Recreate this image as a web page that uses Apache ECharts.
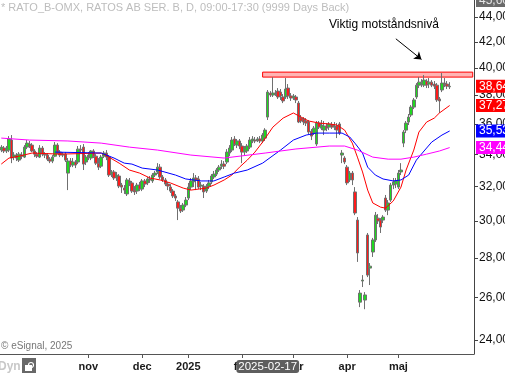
<!DOCTYPE html>
<html><head><meta charset="utf-8">
<script src="https://cdn.jsdelivr.net/npm/echarts@6/dist/echarts.min.js"></script>
<style>html,body{margin:0;padding:0;background:#fff}#c{width:505px;height:373px}</style>
</head><body><div id="c"></div>
<script>
// ---- categories (Stockholm trading days) ----
const firstDate = '2024-09-16';
const totalCategories = 185;
const holidays = ['2024-12-24','2024-12-25','2024-12-26','2024-12-31','2025-01-01','2025-01-06','2025-04-18','2025-04-21','2025-05-01','2025-05-29','2025-06-06'];
const monthLabels = ['2025','feb','mar','apr','maj','jun','jul','aug','sep','okt','nov','dec'];
const shownTickLabels = ['nov','dec','2025','feb','mar','apr','maj'];
const yTickValues = [24,26,28,30,32,34,36,38,40,42,44];
const crosshairDate = '2025-02-17';

// ---- OHLC (SEK) ----
const opens = [34.28,34.41,34.22,34.28,34.93,33.83,33.96,33.64,33.96,33.83,
34.47,34.67,34.60,34.22,34.02,33.83,34.41,34.02,33.96,33.70,
33.58,33.89,34.60,34.15,33.96,34.02,32.83,33.58,33.33,33.52,
33.52,34.34,34.47,33.52,33.83,33.77,34.22,33.89,33.45,33.26,
33.89,34.09,33.83,32.77,32.90,32.59,32.65,32.10,31.92,31.57,
32.35,32.23,31.80,31.74,32.10,31.86,32.35,32.23,32.47,32.35,
32.71,32.90,33.20,32.59,32.41,32.16,31.98,31.74,31.45,31.10,
30.74,30.63,30.92,31.33,31.98,32.29,32.53,32.47,32.04,32.04,
31.74,32.04,32.29,32.59,32.77,33.02,33.26,33.39,33.52,34.09,
34.28,35.00,34.60,34.87,34.54,34.15,34.22,34.47,34.87,34.93,
34.93,35.00,34.87,35.06,36.47,38.15,38.01,38.15,38.29,38.22,
37.87,37.87,38.51,37.94,37.80,37.87,37.44,36.40,36.33,36.20,
36.13,35.52,35.39,34.67,36.06,35.72,35.59,35.86,35.79,35.93,
35.79,35.86,36.00,33.96,33.77,33.20,32.41,32.83,31.69,30.06,
25.77,26.81,25.87,29.23,27.47,28.31,28.96,30.17,30.06,30.06,
31.33,30.63,31.21,32.10,32.16,31.98,32.90,34.73,35.59,36.13,
36.61,37.16,37.87,38.72,38.80,38.72,39.02,38.80,38.94,38.80,
38.72,37.73,38.37,38.87,38.80,38.60];
const closes = [34.47,34.22,34.41,35.00,33.77,33.96,33.77,34.02,33.89,34.47,
34.73,34.54,34.22,34.02,33.89,34.41,34.02,33.96,33.70,33.58,
33.83,34.60,34.15,33.96,34.02,33.64,33.58,33.33,33.52,33.33,
34.34,34.28,33.39,33.83,33.96,34.22,33.89,33.45,33.20,33.83,
34.09,33.83,32.71,32.90,32.53,32.71,32.04,31.98,31.80,32.41,
32.23,31.74,31.69,32.10,31.86,32.35,32.16,32.47,32.41,32.71,
32.83,33.20,32.59,32.41,32.16,32.04,31.74,31.45,31.33,30.74,
30.57,30.92,31.21,31.98,32.35,32.53,32.41,31.98,32.10,31.69,
32.04,32.23,32.65,32.77,33.02,33.20,33.39,33.26,34.15,34.41,
34.93,34.67,34.87,34.54,34.15,34.41,34.54,34.93,35.00,34.87,
35.00,34.87,35.26,35.59,38.22,38.01,38.15,38.08,37.87,37.94,
37.59,38.44,37.94,37.80,37.94,37.66,36.13,36.20,36.13,36.06,
35.46,35.19,35.72,36.06,35.79,35.93,35.86,35.72,36.00,35.79,
35.86,35.59,35.39,34.09,33.52,32.23,32.83,32.41,30.46,28.26,
26.21,26.86,26.12,27.11,27.57,28.96,30.34,30.01,29.67,30.23,
30.63,31.04,32.10,32.29,32.35,32.83,33.02,35.46,36.06,36.47,
37.16,37.66,38.72,38.94,38.94,39.09,38.72,38.94,38.72,38.65,
37.66,37.59,38.87,38.80,38.65,38.64];
const lows = [34.15,34.09,34.09,34.15,33.45,33.64,33.58,33.52,33.70,33.77,
34.34,34.41,34.15,33.83,33.77,33.77,33.89,33.77,33.58,33.45,
33.45,33.83,34.02,33.83,33.83,33.52,31.80,33.20,33.20,33.14,
33.39,34.09,33.02,33.33,33.64,33.64,33.77,33.33,33.02,33.14,
33.77,33.64,32.59,32.59,32.41,32.35,31.92,31.63,31.57,31.45,
32.04,31.63,31.51,31.57,31.74,31.74,31.98,32.10,32.23,32.23,
32.59,32.77,32.47,32.29,32.04,31.80,31.63,31.33,31.16,30.06,
30.46,30.52,30.80,31.21,31.80,31.98,31.80,31.86,31.80,31.33,
31.63,31.86,32.16,32.47,32.65,32.90,33.08,33.08,33.39,33.89,
34.15,34.54,34.41,34.34,33.45,33.96,34.09,34.34,34.73,34.73,
34.80,34.73,34.73,34.87,36.27,37.87,37.87,37.94,37.73,37.66,
37.44,37.73,37.73,37.59,37.66,37.44,36.06,36.06,35.93,35.86,
35.33,34.93,35.26,34.54,35.66,35.59,35.26,35.52,35.59,35.66,
35.59,35.06,35.26,33.45,33.39,32.10,32.29,32.10,30.34,27.79,
25.53,26.51,25.43,27.01,26.61,28.05,28.85,29.84,29.34,29.89,
30.52,30.34,31.10,31.86,31.92,31.86,32.71,34.47,35.39,35.93,
36.47,37.02,37.73,38.51,38.58,38.58,38.51,38.51,38.58,38.44,
37.52,36.75,38.22,38.58,38.44,38.44];
const highs = [34.60,34.54,34.54,35.19,35.26,34.15,34.09,34.15,34.15,34.60,
34.93,34.87,34.73,34.34,34.15,34.60,34.54,34.15,34.09,33.83,
33.96,34.80,34.73,34.28,34.15,34.15,33.77,33.77,33.77,33.64,
34.54,34.60,34.67,33.96,34.15,34.28,34.34,34.02,33.77,33.96,
34.22,34.28,33.96,33.02,33.02,32.90,32.77,32.23,32.10,32.53,
32.53,32.35,32.04,32.23,32.29,32.47,32.47,32.59,32.65,32.83,
32.96,33.45,33.39,32.71,32.53,32.29,32.16,31.86,31.57,31.21,
30.92,31.04,31.39,32.23,32.53,32.83,32.71,32.65,32.29,32.16,
32.16,32.41,32.77,32.96,33.14,33.33,33.64,33.58,34.34,34.60,
35.13,35.19,35.00,35.00,34.73,34.54,34.67,35.13,35.19,35.13,
35.13,35.19,35.39,35.72,38.37,38.29,39.31,38.37,38.51,38.44,
38.08,39.24,38.80,38.15,38.08,38.01,37.59,36.61,36.47,36.40,
36.27,35.66,35.86,36.20,36.20,36.27,36.20,36.06,36.13,36.13,
36.13,36.06,36.13,34.28,33.89,33.33,32.96,32.96,31.98,30.23,
26.36,27.11,26.26,29.34,27.73,29.07,30.52,30.40,30.17,30.34,
31.51,31.21,32.23,32.53,32.53,33.02,33.45,35.59,36.20,36.68,
37.30,37.80,38.87,39.31,39.16,39.46,39.16,39.24,39.09,39.02,
38.87,37.87,39.61,39.24,39.02,38.94];

// ---- moving averages (bar index, value) ----
const maRedIdx = [0,3,7,12,23,39,42,46,50,54,58,62,66,71,74,80,83,87,90,93,96,99,102,106,110,114,117,120,124,128,131,134,137,139,141,143,145,148,150,153,156,158,161,163,166,169,171,175];
const maRedVal = [33.39,33.77,33.89,34.09,34.02,34.09,33.83,33.45,33.02,32.83,32.53,32.41,32.23,31.92,31.80,31.92,32.10,32.41,32.71,33.20,33.64,34.15,34.80,35.79,36.40,36.75,36.47,36.20,36.06,36.00,35.93,35.59,34.73,33.83,32.90,31.80,31.04,30.80,30.74,31.16,31.98,33.02,34.28,35.46,36.13,36.40,36.75,37.27];
const maBlueIdx = [21,39,44,48,51,55,61,68,72,78,83,87,91,96,102,109,114,119,123,128,133,136,138,141,143,146,149,153,156,159,162,165,168,172,175];
const maBlueVal = [34.15,34.09,33.77,33.45,33.39,33.14,33.02,32.71,32.47,32.35,32.35,32.59,32.83,33.02,33.45,34.28,34.93,35.26,35.39,35.39,35.39,35.13,34.73,34.09,33.20,32.71,32.47,32.35,32.41,32.71,33.64,34.22,34.80,35.26,35.53];
const maMagIdx = [0,11,26,39,50,61,74,87,103,115,128,134,139,145,151,156,161,166,171,175];
const maMagVal = [35.06,34.93,34.87,34.73,34.47,34.28,33.96,33.77,34.09,34.35,34.54,34.54,34.28,33.83,33.70,33.70,33.83,34.02,34.22,34.44];

// ---- annotations ----
const resistanceStart = '2025-02-13';
const resistanceLow = 39.31;
const resistanceHigh = 39.68;
const arrowFrom = ['2025-04-30', 42.24];
const arrowTo = ['2025-05-15', 40.64];
const noteText = 'Viktig motståndsnivå';
const titleText = '* RATO_B-OMX, RATOS AB SER. B, D, 09:00-17:30 (9999 Days Back)';
const topTag = '45,60';

// ---- build ----
const L = Math.log;
const fmt = v => Math.exp(v).toFixed(2).replace('.', ',');
const dates = (function () {
  const out = [];
  const p = firstDate.split('-').map(Number);
  const d = new Date(Date.UTC(p[0], p[1] - 1, p[2]));
  while (out.length < totalCategories) {
    const dow = d.getUTCDay();
    const s = d.toISOString().slice(0, 10);
    if (dow !== 0 && dow !== 6 && holidays.indexOf(s) < 0) out.push(s);
    d.setUTCDate(d.getUTCDate() + 1);
  }
  return out;
})();
const monthOf = v => monthLabels[Number(String(v).slice(5, 7)) - 1];
const isMonthStart = (i, v) => i > 0 && dates[i - 1].slice(5, 7) !== String(v).slice(5, 7) && shownTickLabels.indexOf(monthOf(v)) >= 0;
const candleData = opens.map((o, i) => [L(o), L(closes[i]), L(lows[i]), L(highs[i])]);
function maSeries(idx, val) {
  const arr = new Array(dates.length).fill(null);
  idx.forEach((k, j) => { arr[k] = L(val[j]); });
  return arr;
}
const FONT = '"Liberation Sans", Arial, sans-serif';
function tag(value, bg) {
  return {
    yAxis: L(value), symbol: 'none',
    lineStyle: { color: 'rgba(0,0,0,0)', width: 0, opacity: 1 },
    label: { show: true, position: 'end', distance: 2, formatter: p => fmt(p.value), opacity: 1,
      color: '#fff', backgroundColor: bg, padding: [1, 3, 0, 3], fontSize: 12, fontFamily: FONT, lineHeight: 12 }
  };
}
function maLine(name, idx, val, color) {
  return {
    name, type: 'line', data: maSeries(idx, val), connectNulls: true, showSymbol: false, symbol: 'none',
    lineStyle: { color, width: 1 }, z: 3, silent: true,
    markLine: { silent: true, symbol: 'none', precision: 10, animation: false, data: [tag(val[val.length - 1], color)] }
  };
}

const chart = echarts.init(document.getElementById('c'), null, { renderer: 'canvas' });
chart.setOption({
  animation: false,
  backgroundColor: '#fff',
  grid: { left: 0, right: 31, top: 0, bottom: 19, containLabel: false, outerBoundsMode: 'none' },
  xAxis: {
    type: 'category', data: dates, boundaryGap: true,
    axisLine: { show: true, lineStyle: { color: '#555', width: 1 } },
    axisTick: { show: true, alignWithLabel: true, interval: isMonthStart, length: 4, lineStyle: { color: '#555' } },
    axisLabel: { interval: isMonthStart, formatter: monthOf,
      color: '#1a1a1a', fontSize: 11, fontWeight: 'bold', fontFamily: FONT, margin: 7 },
    splitLine: { show: false },
    axisPointer: {
      show: true, value: crosshairDate, status: 'show', triggerTooltip: false, type: 'line',
      lineStyle: { opacity: 0, width: 0 },
      label: { show: true, backgroundColor: '#5e5e5e', color: '#fff', fontSize: 11.5, fontFamily: FONT,
        padding: [1, 2, 0, 2], margin: 7, formatter: p => p.value }
    }
  },
  yAxis: {
    type: 'value', position: 'right', min: L(23.38), max: L(45.43),
    splitLine: { show: false },
    axisLine: { show: true, lineStyle: { color: '#444' } },
    axisTick: { show: true, length: 4, customValues: yTickValues.map(L), lineStyle: { color: '#444' } },
    axisLabel: { customValues: yTickValues.map(L), formatter: fmt, color: '#111', fontSize: 12, fontFamily: FONT, margin: 5 }
  },
  series: [
    {
      name: 'RATO_B', type: 'candlestick', data: candleData, barWidth: 3, z: 2,
      itemStyle: { color: '#1fd81f', color0: '#ff1a1a', borderColor: '#707070', borderColor0: '#707070', borderWidth: 1 },
      markArea: {
        silent: true,
        itemStyle: { color: '#ffb4b4', borderColor: '#ff0000', borderWidth: 1 },
        data: [[{ xAxis: resistanceStart, yAxis: L(resistanceLow) }, { xAxis: dates[dates.length - 1], yAxis: L(resistanceHigh) }]]
      },
      markLine: {
        silent: true, animation: false, precision: 10, symbol: ['none', 'arrow'], symbolSize: 7,
        data: [
          tag(closes[closes.length - 1], '#ff0000'),
          [{ coord: [arrowFrom[0], L(arrowFrom[1])], symbol: 'none', lineStyle: { color: '#000', width: 1, type: 'solid' }, label: { show: false } },
           { coord: [arrowTo[0], L(arrowTo[1])], symbol: 'arrow' }]
        ]
      }
    },
    maLine('MA kort', maRedIdx, maRedVal, '#ff0000'),
    maLine('MA medel', maBlueIdx, maBlueVal, '#0000ff'),
    maLine('MA lång', maMagIdx, maMagVal, '#ff00ff')
  ],
  graphic: [
    { type: 'text', left: 1, top: 2, z: 100, style: { text: titleText, fill: '#bdbdbd', font: '11px ' + FONT } },
    { type: 'text', left: 329, top: 19, z: 100, style: { text: noteText, fill: '#000', font: '12px ' + FONT } },
    { type: 'text', left: 1, top: 341, z: 100, style: { text: '© eSignal, 2025', fill: '#777', font: '10px ' + FONT } },
    { type: 'text', left: -2, top: 361, z: 100, style: { text: 'Dyn', fill: '#c8c8c8', font: 'bold 12px ' + FONT } },
    { type: 'rect', left: 22, top: 358, z: 100, shape: { width: 14, height: 15 }, style: { fill: '#686868' } },
    { type: 'rect', left: 25, top: 365, z: 101, shape: { width: 7, height: 6 }, style: { fill: '#fff' } },
    { type: 'circle', left: 26, top: 360, z: 101, shape: { r: 2.5 }, style: { fill: 'none', stroke: '#fff', lineWidth: 1.2 } },
    { type: 'text', left: 476, top: -6, z: 100, style: { text: topTag, fill: '#e6e6e6', font: '12px ' + FONT, backgroundColor: '#6a6a6a', padding: [1, 3, 0, 3] } }
  ]
});
</script>
</body></html>
